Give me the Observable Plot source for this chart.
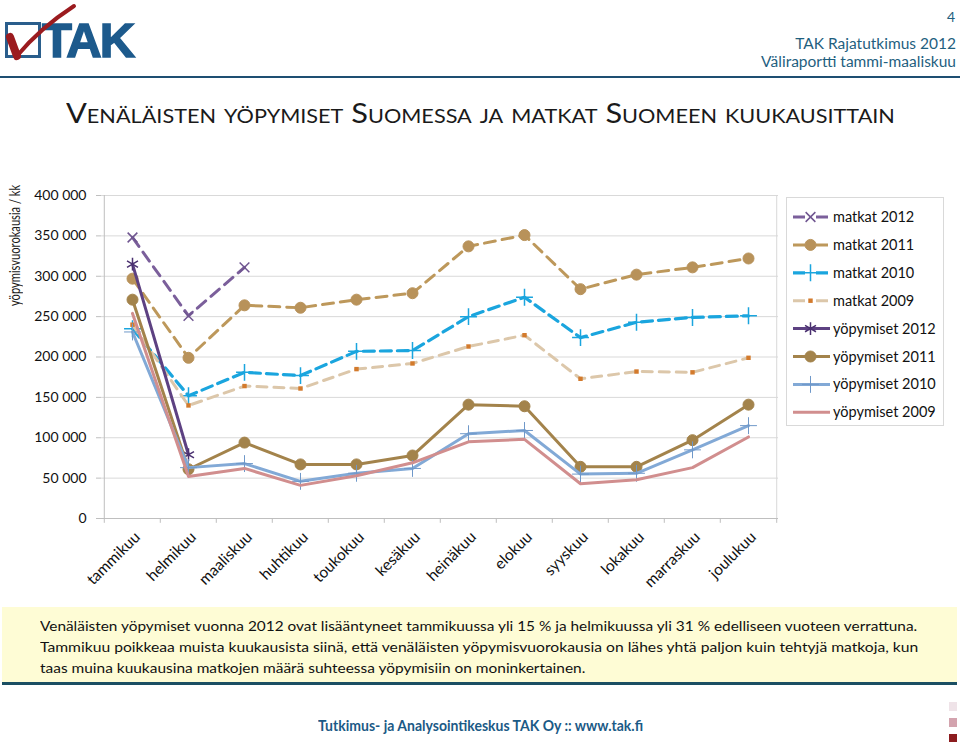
<!DOCTYPE html>
<html><head><meta charset="utf-8">
<script src="https://cdn.jsdelivr.net/npm/d3@7"></script>
<script src="https://cdn.jsdelivr.net/npm/@observablehq/plot@0.6"></script>
<style>
body{margin:0;background:#fff;font-family:Lato,"Open Sans",sans-serif;}
#page{position:relative;width:960px;height:742px;overflow:hidden;background:#fff;}
.abs{position:absolute;white-space:nowrap;}
.fit{display:inline-block;transform-origin:left top;}
</style></head><body><div id="page">

<svg class="abs" style="left:0;top:0" width="160" height="70">
  <rect x="6.5" y="23.5" width="33" height="33" fill="none" stroke="#2a5e8c" stroke-width="3"/>
  <text x="42" y="57" font-family="Liberation Sans, Arial, sans-serif" font-weight="bold" font-size="49" fill="#1d5a8c" stroke="#1d5a8c" stroke-width="1.5" letter-spacing="-2">TAK</text>
  <path d="M10 40 Q13 45 16 57 Q40 28 74 6" stroke="#9b1b1f" stroke-width="4" fill="none" stroke-linecap="round" stroke-linejoin="round"/>
  <path d="M10 37 L17 56" stroke="#9b1b1f" stroke-width="8" stroke-linecap="round"/>
</svg>
<div class="abs" style="right:5px;top:8px;font-size:14px;color:#1f5f7f">4</div>
<div class="abs" style="right:4px;top:34px;font-size:15.5px;color:#1f5f7f">TAK Rajatutkimus 2012</div>
<div class="abs" style="right:4px;top:52px;font-size:15.5px;color:#1f5f7f">Väliraportti tammi-maaliskuu</div>
<div class="abs" style="left:0;top:76px;width:960px;height:2px;background:#1e4f72"></div>

<div class="abs" style="left:66px;top:96px;"><span id="title" class="fit" style="font-size:27px;font-variant:small-caps;color:#1a1a1a;">Venäläisten yöpymiset Suomessa ja matkat Suomeen kuukausittain</span></div>

<div class="abs" id="ylab" style="left:5px;top:306px;transform-origin:left top;transform:rotate(-90deg);font-size:15px;color:#1a1a1a;"><span id="ylabt" class="fit">yöpymisvuorokausia / kk</span></div>

<div id="chart" class="abs" style="left:0;top:170px"></div>
<div id="legend" class="abs" style="left:783px;top:195px"></div>

<div class="abs" style="left:2px;top:607px;width:955px;height:75px;background:#fefcd5;border-bottom:3px solid #1b4f63"></div>
<div class="abs" style="left:40px;top:617px;font-size:14px;color:#111"><span class="fit" data-w="877">Venäläisten yöpymiset vuonna 2012 ovat lisääntyneet tammikuussa yli 15 % ja helmikuussa yli 31 % edelliseen vuoteen verrattuna.</span></div>
<div class="abs" style="left:40px;top:638px;font-size:14px;color:#111"><span class="fit" data-w="878">Tammikuu poikkeaa muista kuukausista siinä, että venäläisten yöpymisvuorokausia on lähes yhtä paljon kuin tehtyjä matkoja, kun</span></div>
<div class="abs" style="left:40px;top:659px;font-size:14px;color:#111"><span class="fit" data-w="545">taas muina kuukausina matkojen määrä suhteessa yöpymisiin on moninkertainen.</span></div>

<div class="abs" style="left:318px;top:716px;font-size:15px;font-weight:bold;color:#1b5a86"><span class="fit" data-w="325">Tutkimus- ja Analysointikeskus TAK Oy :: www.tak.fi</span></div>
<div class="abs" style="left:949px;top:702px;width:8px;height:9px;background:#efe3e8"></div>
<div class="abs" style="left:949px;top:718px;width:8px;height:9px;background:#d3a3ae"></div>
<div class="abs" style="left:949px;top:734px;width:8px;height:8px;background:#8c1c1f"></div>
</div>
<script>
const months = ["tammikuu","helmikuu","maaliskuu","huhtikuu","toukokuu","kesäkuu","heinäkuu","elokuu","syyskuu","lokakuu","marraskuu","joulukuu"];
const seriesNames = ["matkat 2012","matkat 2011","matkat 2010","matkat 2009","yöpymiset 2012","yöpymiset 2011","yöpymiset 2010","yöpymiset 2009"];
const matkat2012 = [348000, 251000, 311000];
const matkat2011 = [297000, 199000, 264000, 261000, 271000, 279000, 337000, 351000, 284000, 302000, 311000, 322000];
const matkat2010 = [235000, 152000, 181000, 177000, 207000, 208000, 250000, 274000, 224000, 243000, 249000, 251000];
const matkat2009 = [240000, 140000, 164000, 161000, 185000, 192000, 213000, 227000, 173000, 182000, 181000, 199000];
const yopymiset2012 = [315000, 79000];
const yopymiset2011 = [271000, 61000, 94000, 67000, 67000, 78000, 141000, 139000, 64000, 64000, 97000, 141000];
const yopymiset2010 = [231000, 63000, 68000, 46000, 56000, 62000, 105000, 109000, 55000, 56000, 85000, 115000];
const yopymiset2009 = [254000, 52000, 62000, 41000, 53000, 69000, 95000, 98000, 43000, 48000, 63000, 101000];
const yTicks = [0, 50000, 100000, 150000, 200000, 250000, 300000, 350000, 400000];

const seriesValues = [matkat2012, matkat2011, matkat2010, matkat2009, yopymiset2012, yopymiset2011, yopymiset2010, yopymiset2009];
const styles = [
  {stroke:"#7b5f9b", width:3, dash:"11,7", symbol:"times", r:4.5, mFill:"none", mStroke:"#6f5590", mWidth:1.5},
  {stroke:"#bd985b", width:3, dash:"11,7", symbol:"circle", r:5.5, mFill:"#b8925a", mStroke:"#b8925a", mWidth:1},
  {stroke:"#1aa5de", width:3.2, dash:"11,6", symbol:"plus", r:5.5, mFill:"none", mStroke:"#1aa5de", mWidth:1.5},
  {stroke:"#dcc7aa", width:3, dash:"10,7", symbol:"square", r:2.5, mFill:"#d37a2c", mStroke:"none", mWidth:0},
  {stroke:"#5d4182", width:3, dash:null, symbol:"asterisk", r:6, mFill:"none", mStroke:"#4a3070", mWidth:1.5},
  {stroke:"#a3834b", width:3, dash:null, symbol:"circle", r:5.5, mFill:"#a3834b", mStroke:"#a3834b", mWidth:1},
  {stroke:"#82a9d6", width:3, dash:null, symbol:"plus", r:5.5, mFill:"none", mStroke:"#6f98c9", mWidth:1},
  {stroke:"#d18e8e", width:3, dash:null, symbol:null}
];
const rows = seriesNames.flatMap((s, i) => seriesValues[i].map((v, j) => ({series: s, month: months[j], value: v})));

const ML = 101, MR = 182, W = 960, H = 430, MT = 25, MB = 82;
const halfStep = (W - ML - MR) / months.length / 2;
const fmt = d => d3.format(",")(d).replace(/,/g, " ");

const marks = [
  Plot.gridY(yTicks, {stroke: "#d9d9d9", strokeOpacity: 1}),
  Plot.ruleX([months[months.length - 1]], {dx: halfStep, y1: 0, y2: 400000, stroke: "#d9d9d9"}),
  Plot.ruleX([months[0]], {dx: -halfStep, y1: 0, y2: 400000, stroke: "#bfbfbf"}),
  Plot.ruleY([0], {stroke: "#bfbfbf"}),
  Plot.ruleX(months, {dx: -halfStep, y1: 0, y2: -6000, stroke: "#bfbfbf"}),
  Plot.ruleX([months[months.length - 1]], {dx: halfStep, y1: 0, y2: -6000, stroke: "#bfbfbf"}),
  Plot.axisY(yTicks, {tickSize: 5, tickPadding: 10, stroke: "#bfbfbf", fill: "#111", fontSize: 14, tickFormat: fmt, label: null}),
  Plot.text(months, {x: d => d, y: 0, text: d => d, rotate: -45, textAnchor: "end", dx: 5, dy: 16, fontSize: 15.5, fill: "#111"})
];
seriesNames.forEach((s, i) => {
  const st = styles[i];
  const data = rows.filter(r => r.series === s);
  marks.push(Plot.lineY(data, {x: "month", y: "value", stroke: st.stroke, strokeWidth: st.width, strokeDasharray: st.dash, strokeLinejoin: "round"}));
  if (st.symbol) marks.push(Plot.dot(data, {x: "month", y: "value", symbol: st.symbol, r: st.r, fill: st.mFill, stroke: st.mStroke, strokeWidth: st.mWidth}));
});

const chart = Plot.plot({
  width: W, height: H, marginLeft: ML, marginRight: MR, marginTop: MT, marginBottom: MB,
  style: {fontFamily: "Lato, 'Open Sans', sans-serif", background: "transparent", overflow: "visible"},
  x: {type: "point", domain: months, padding: 0.5, axis: null},
  y: {domain: [0, 400000], axis: null},
  marks
});
document.getElementById("chart").appendChild(chart);

// Legend
const lg = d3.select("#legend").append("svg").attr("width", 165).attr("height", 236)
  .style("font-family", "Lato, 'Open Sans', sans-serif");
lg.append("rect").attr("x", 3.5).attr("y", 2.5).attr("width", 157).attr("height", 228).attr("fill", "#fff").attr("stroke", "#d9d9d9");
const symMap = {times: d3.symbolTimes, circle: d3.symbolCircle, plus: d3.symbolPlus, square: d3.symbolSquare, asterisk: d3.symbolAsterisk};
seriesNames.forEach((s, i) => {
  const st = styles[i];
  const y = 22 + i * 27.9;
  const g = lg.append("g").attr("transform", `translate(0,${y})`);
  g.append("line").attr("x1", 10).attr("x2", st.dash ? 45 : 47).attr("y1", 0).attr("y2", 0)
    .attr("stroke", st.stroke).attr("stroke-width", st.width).attr("stroke-dasharray", st.dash ? "12,11" : null);
  if (st.symbol) {
    g.append("path").attr("transform", "translate(27.5,0)")
      .attr("d", d3.symbol(symMap[st.symbol], st.r * st.r * Math.PI)())
      .attr("fill", st.mFill).attr("stroke", st.mStroke).attr("stroke-width", st.mWidth);
  }
  g.append("text").attr("x", 50).attr("y", 0).attr("dy", "0.35em").attr("font-size", 14.5).attr("fill", "#111").text(s);
});

// fit text widths (untransformed layout widths)
document.querySelectorAll(".fit[data-w]").forEach(el => {
  el.style.transform = `scaleX(${(+el.dataset.w) / el.offsetWidth})`;
});
const t = document.getElementById("title");
t.style.transform = `scaleX(${829 / t.offsetWidth})`;
const yl = document.getElementById("ylabt");
yl.style.transform = `scaleX(${121 / yl.offsetWidth})`;
</script>
</body></html>
